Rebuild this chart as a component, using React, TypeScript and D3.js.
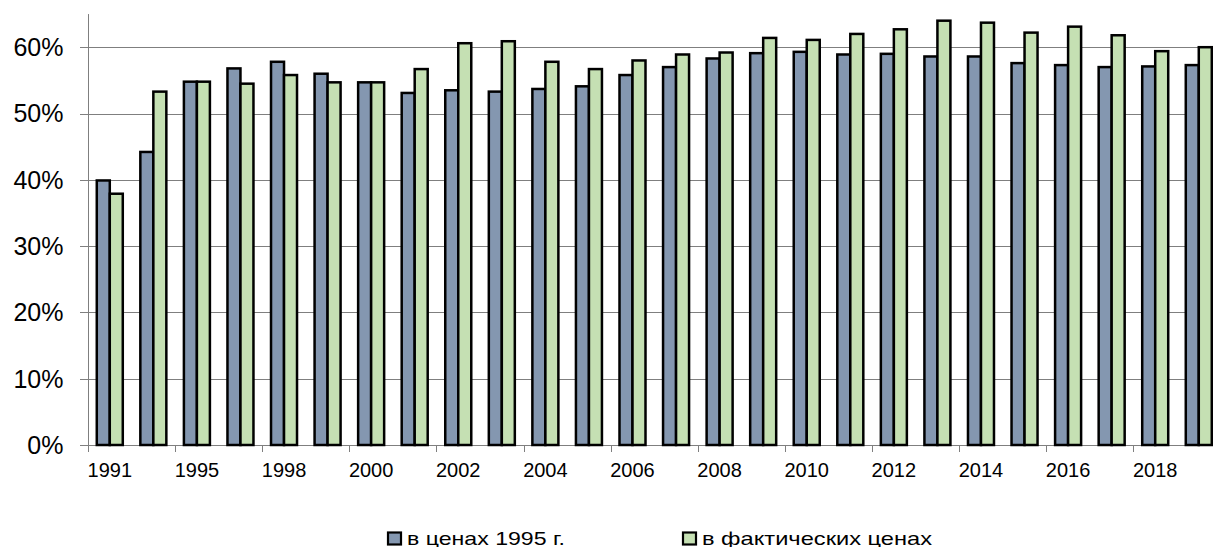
import React from "react";
import * as d3 from "d3";

const years = [
  "1991", "1992", "1995", "1997", "1998", "1999", "2000", "2001", "2002", "2003",
  "2004", "2005", "2006", "2007", "2008", "2009", "2010", "2011", "2012", "2013",
  "2014", "2015", "2016", "2017", "2018", "2019",
];
const seriesNames = ["в ценах 1995 г.", "в фактических ценах"];
const constPrices = [
  0.399, 0.442, 0.548, 0.568, 0.578, 0.560, 0.547, 0.531, 0.535, 0.533,
  0.537, 0.541, 0.558, 0.570, 0.583, 0.591, 0.593, 0.589, 0.590, 0.586,
  0.586, 0.576, 0.573, 0.570, 0.571, 0.573,
];
const actualPrices = [
  0.379, 0.533, 0.548, 0.545, 0.558, 0.547, 0.547, 0.567, 0.606, 0.609,
  0.578, 0.567, 0.580, 0.589, 0.592, 0.614, 0.611, 0.620, 0.627, 0.640,
  0.637, 0.622, 0.631, 0.618, 0.594, 0.600,
];
const yTicks = [0, 0.1, 0.2, 0.3, 0.4, 0.5, 0.6];
const colors = ["#8497b0", "#c5e0b3"];

const W = 1213;
const H = 547;
const left = 88;
const step = 43.56;
const plotRight = left + step * years.length;
const y0 = 445;
const yMax = 0.65;

export default function App() {
  const x = d3
    .scaleBand<string>()
    .domain(years)
    .range([left, plotRight])
    .paddingInner(0.403)
    .paddingOuter(0.2015);
  const x1 = d3.scaleBand<number>().domain([0, 1]).range([0, x.bandwidth()]);
  const y = d3.scaleLinear().domain([0, yMax]).range([y0, y0 - yMax * 663]);
  const data = [constPrices, actualPrices];
  const font = "Arial, 'Liberation Sans', sans-serif";
  const legendX = [388, 683];
  const legendTextLen = [158, 230];

  return (
    <svg
      width={W}
      height={H}
      style={{ position: "fixed", left: 0, top: 0, background: "#fff" }}
      fontFamily={font}
    >
      {/* gridlines */}
      {yTicks.map((t) => (
        <line
          key={"g" + t}
          x1={left - 8}
          x2={plotRight}
          y1={Math.round(y(t)) + 0.5}
          y2={Math.round(y(t)) + 0.5}
          stroke="#7f7f7f"
          strokeWidth={1}
        />
      ))}
      {/* y axis */}
      <line x1={left + 0.5} x2={left + 0.5} y1={y(yMax)} y2={y0} stroke="#7f7f7f" strokeWidth={1} />
      {yTicks.map((t) => (
        <text
          key={"yl" + t}
          x={63.5}
          y={y(t) + 8.8}
          textAnchor="end"
          fontSize={25}
          fill="#000"
        >
          {d3.format(".0%")(t)}
        </text>
      ))}
      {/* x tick marks */}
      {years.map((yr, i) =>
        i % 2 === 0 ? (
          <line
            key={"xt" + yr}
            x1={Math.round(left + i * step) + 0.5}
            x2={Math.round(left + i * step) + 0.5}
            y1={y0}
            y2={y0 + 7}
            stroke="#7f7f7f"
            strokeWidth={1}
          />
        ) : null
      )}
      {/* bars */}
      {years.map((yr, i) => (
        <g key={"b" + yr} transform={`translate(${x(yr)},0)`}>
          {data.map((s, k) => (
            <rect
              key={k}
              x={x1(k)}
              y={y(s[i])}
              width={x1.bandwidth()}
              height={y0 - y(s[i])}
              fill={colors[k]}
              stroke="#000"
              strokeWidth={2.5}
            />
          ))}
        </g>
      ))}
      {/* x labels */}
      {years.map((yr, i) =>
        i % 2 === 0 ? (
          <text
            key={"xl" + yr}
            x={(x(yr) as number) + x.bandwidth() / 2}
            y={476.5}
            textAnchor="middle"
            fontSize={20}
            fill="#000"
          >
            {yr}
          </text>
        ) : null
      )}
      {/* legend */}
      {seriesNames.map((name, k) => {
        const lx = legendX[k];
        return (
          <g key={"lg" + k}>
            <rect x={lx} y={532.5} width={13} height={12} fill={colors[k]} stroke="#000" strokeWidth={2.2} />
            <text
              x={lx + 19}
              y={545}
              fontSize={18.5}
              fill="#000"
              textLength={legendTextLen[k]}
              lengthAdjust="spacingAndGlyphs"
            >
              {name}
            </text>
          </g>
        );
      })}
    </svg>
  );
}
